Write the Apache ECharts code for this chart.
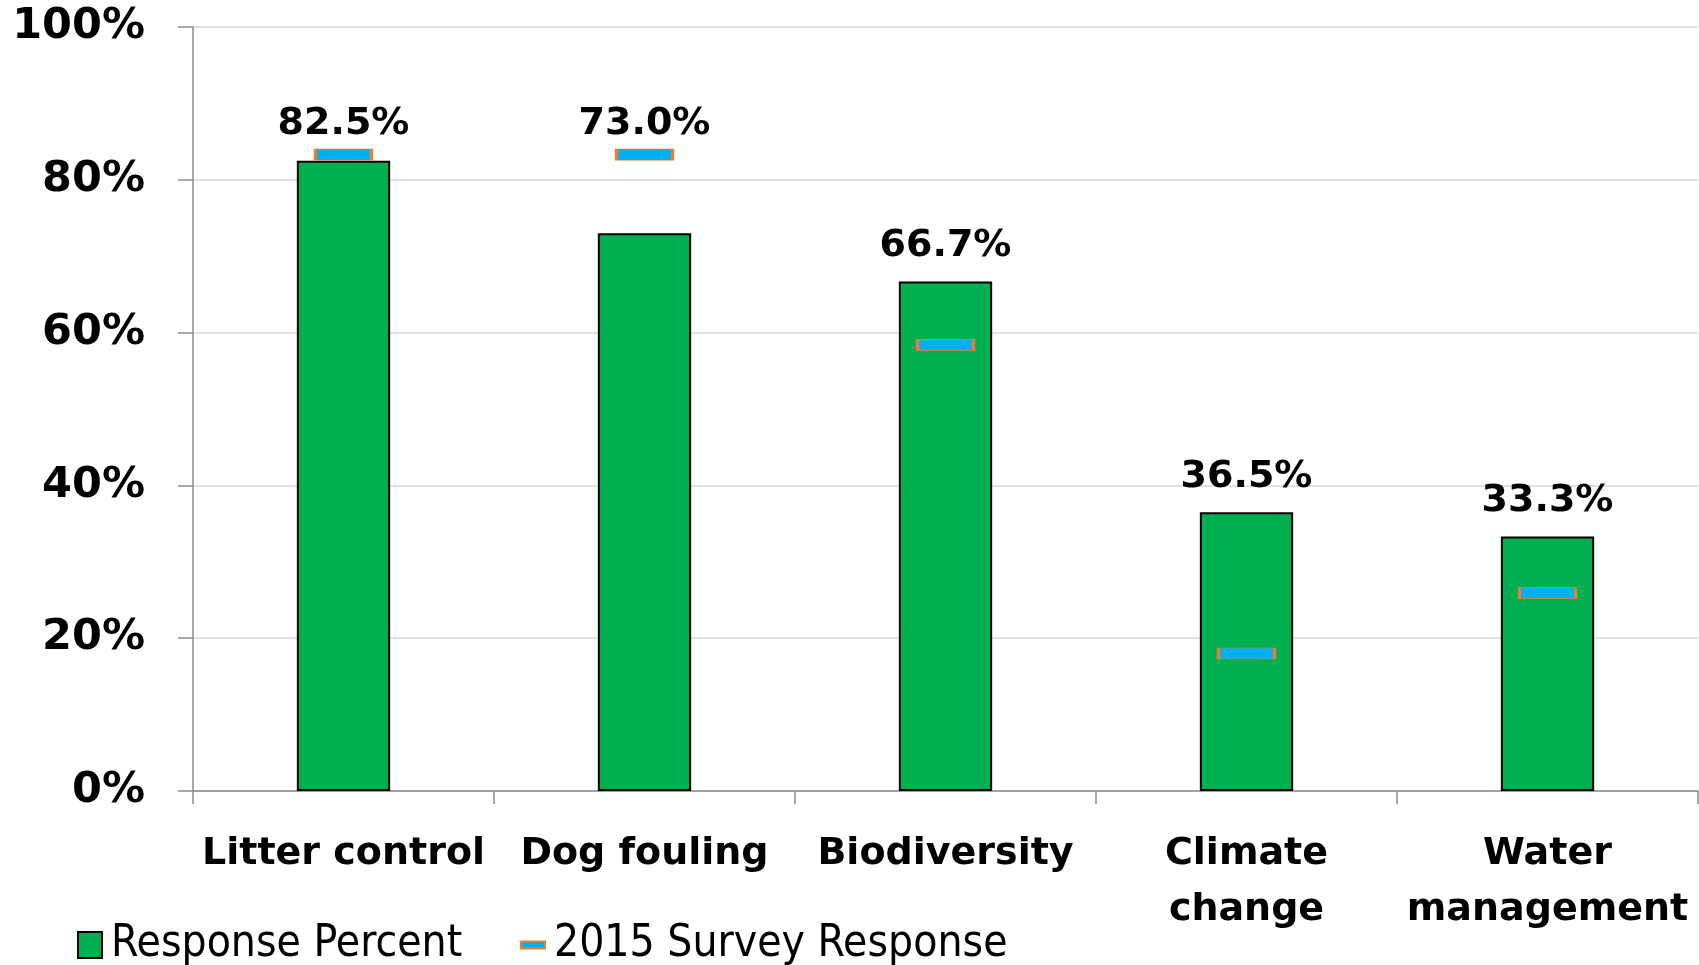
<!DOCTYPE html>
<html><head><meta charset="utf-8">
<script src="https://cdn.jsdelivr.net/npm/echarts@6/dist/echarts.min.js"></script>
<style>html,body{margin:0;padding:0;background:#fff}#c{width:1699px;height:965px}</style>
</head><body><div id="c"></div>
<script>
const categories = ['Litter control', 'Dog fouling', 'Biodiversity', 'Climate\nchange', 'Water\nmanagement'];
const responsePercent = [82.5, 73.0, 66.7, 36.5, 33.3];
const survey2015 = [83.3, 83.3, 58.4, 18.0, 25.9];
const yTicks = [0, 20, 40, 60, 80, 100];

const FONT = '"DejaVu Sans", sans-serif';
const FONT_COND = '"DejaVu Sans Condensed", "DejaVu Sans", sans-serif';
const labelData = responsePercent.map((v, i) => ({
  value: Math.max(v, survey2015[i]),
  label: { distance: survey2015[i] > v ? 11 : 16 }
}));

const chart = echarts.init(document.getElementById('c'));
chart.setOption({
  animation: false,
  textStyle: { fontFamily: FONT },
  grid: { left: 193, right: 1, top: 27, bottom: 174, containLabel: false },
  xAxis: {
    type: 'category',
    data: categories,
    axisLine: { show: true, lineStyle: { color: '#8c8c8c', width: 1.5 } },
    axisTick: { show: true, length: 13, lineStyle: { color: '#8c8c8c', width: 1.5 } },
    axisLabel: { fontFamily: FONT, fontSize: 38, fontWeight: 'bold', color: '#000', margin: 35, lineHeight: 56, interval: 0 }
  },
  yAxis: {
    type: 'value', min: 0, max: 100, interval: 20,
    axisLine: { show: true, lineStyle: { color: '#8c8c8c', width: 1.5 } },
    axisTick: { show: true, length: 15, lineStyle: { color: '#8c8c8c', width: 1.5 } },
    splitLine: { show: true, lineStyle: { color: '#d9d9d9', width: 1.5 } },
    axisLabel: { fontFamily: FONT, fontSize: 43, fontWeight: 'bold', color: '#000', margin: 48,
      formatter: v => yTicks.includes(v) ? v + '%' : '' }
  },
  legend: [
    { data: [{ name: 'Response Percent', icon: 'rect' }], left: 72, top: 918, itemWidth: 24, itemHeight: 26, itemGap: 8,
      textStyle: { fontFamily: FONT_COND, fontSize: 44, color: '#000', padding: [0, 0, 0, 4] } },
    { data: [{ name: '2015 Survey Response', icon: 'rect' }], left: 515, top: 918, itemWidth: 24, itemHeight: 7,
      textStyle: { fontFamily: FONT_COND, fontSize: 44, color: '#000', padding: [0, 0, 0, 4] } }
  ],
  series: [
    { name: 'Response Percent', type: 'bar', data: responsePercent, barWidth: '31%',
      itemStyle: { color: '#00B050', borderColor: '#000', borderWidth: 2 } },
    { name: '2015 Survey Response', type: 'scatter', data: survey2015, symbol: 'rect', symbolSize: [56, 11], z: 5,
      itemStyle: { color: '#00B0F0', borderColor: '#ED7D31', borderWidth: 1.5, opacity: 1 } },
    { name: 'labels', type: 'scatter', data: labelData, symbolSize: 0, silent: true, z: 6,
      itemStyle: { opacity: 1 },
      label: { show: true, position: 'top', distance: 16, fontFamily: FONT, fontSize: 38, fontWeight: 'bold', color: '#000',
        formatter: p => responsePercent[p.dataIndex].toFixed(1) + '%' } }
  ]
});
</script></body></html>
